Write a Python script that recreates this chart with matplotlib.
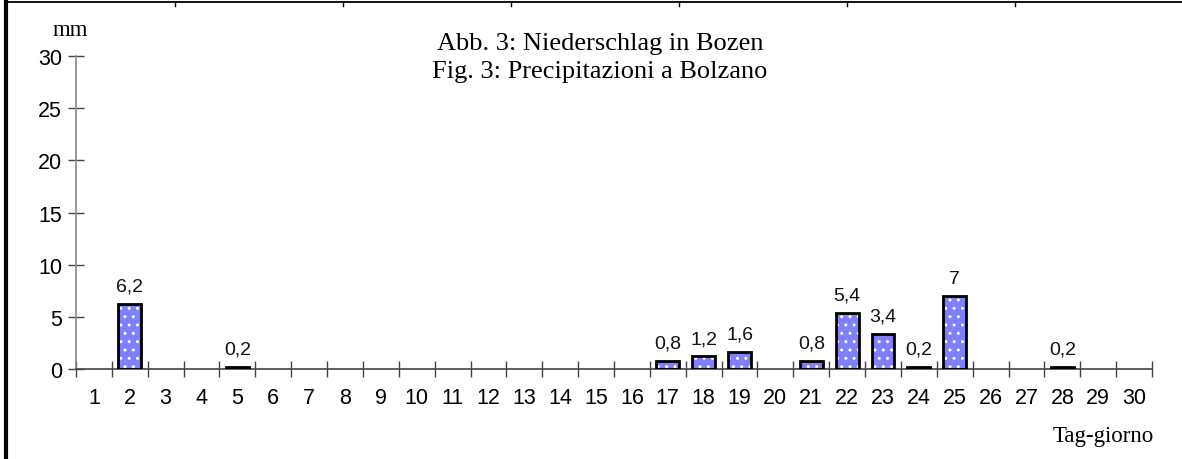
import matplotlib
matplotlib.use("Agg")
import matplotlib.pyplot as plt
from matplotlib.lines import Line2D

days = list(range(1, 31))
values = [0, 6.2, 0, 0, 0.2, 0, 0, 0, 0, 0, 0, 0, 0, 0, 0, 0,
          0.8, 1.2, 1.6, 0, 0.8, 5.4, 3.4, 0.2, 7, 0, 0, 0.2, 0, 0]
labels = ["" if v == 0 else (f"{v:g}".replace(".", ",")) for v in values]
title1 = "Abb. 3: Niederschlag in Bozen"
title2 = "Fig. 3: Precipitazioni a Bolzano"
yticks = [0, 5, 10, 15, 20, 25, 30]

sans = ["Liberation Sans", "DejaVu Sans"]
serif = ["Liberation Serif", "DejaVu Serif"]

fig = plt.figure(figsize=(11.82, 4.6), dpi=100)
ax = fig.add_axes([76/1182, 1-370/460, (1152-76)/1182, (370-57)/460])

nz_days = [d for d, v in zip(days, values) if v > 0]
nz_vals = [v for v in values if v > 0]
ax.bar(nz_days, nz_vals, width=0.64, color="#7f7fff", edgecolor="white",
       hatch="..", linewidth=0, zorder=2)
ax.bar(nz_days, nz_vals, width=0.64, fill=False, edgecolor="black",
       linewidth=2, zorder=3)
for d, v, lab in zip(days, values, labels):
    if lab:
        ax.text(d, v + 0.9, lab, ha="center", va="bottom", fontsize=14,
                family=sans, color="#111111")

ax.set_xlim(0.5, 30.5)
ax.set_ylim(0, 30)
ax.set_xticks([d + 0.5 for d in range(0, 31)])
ax.set_xticklabels([])
ax.set_xticks(days, minor=True)
ax.set_xticklabels([str(d) for d in days], minor=True, family=sans, fontsize=15.5)
ax.tick_params(axis="x", which="major", direction="inout", length=11, width=1, color="#444444")
ax.tick_params(axis="x", which="minor", length=0, pad=13)
ax.set_yticks(yticks)
ax.set_yticklabels([str(t) for t in yticks], family=sans, fontsize=15.5)
ax.tick_params(axis="y", direction="inout", length=12, width=1, color="#444444", pad=4)

for s in ["top", "right"]:
    ax.spines[s].set_visible(False)
ax.spines["left"].set_color("#888888")
ax.spines["bottom"].set_color("#444444")
ax.spines["left"].set_linewidth(1.2)
ax.spines["bottom"].set_linewidth(1.2)

fig.text(600/1182, 1-44/460, title1, ha="center", va="center", family=serif, fontsize=19)
fig.text(600/1182, 1-72/460, title2, ha="center", va="center", family=serif, fontsize=19)
fig.text(70/1182, 1-30/460, "mm", ha="center", va="center", family=serif, fontsize=16.5)
fig.text(1154/1182, 1-437/460, "Tag-giorno", ha="right", va="center", family=serif, fontsize=16.5)

# page frame lines
fig.add_artist(Line2D([5.5/1182, 5.5/1182], [0, 1], color="black", linewidth=3, transform=fig.transFigure))
fig.add_artist(Line2D([5/1182, 1], [1-3/460, 1-3/460], color="black", linewidth=1.3, transform=fig.transFigure))
for x in [175, 343, 511, 679, 847, 1015]:
    fig.add_artist(Line2D([x/1182, x/1182], [1-3/460, 1-7/460], color="black", linewidth=1, transform=fig.transFigure))

fig.savefig("out.png", dpi=100)
